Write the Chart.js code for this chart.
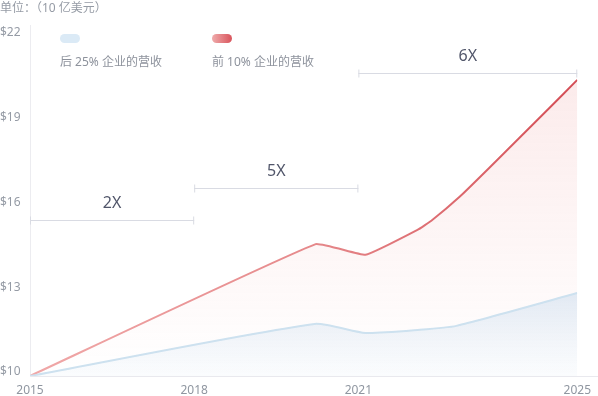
<!DOCTYPE html>
<html>
<head>
<meta charset="utf-8">
<script src="https://cdn.jsdelivr.net/npm/chart.js@4"></script>
<style>
  body { margin: 0; background: #fff; font-family: "Noto Sans", "Noto Sans CJK SC", sans-serif; }
  #wrap { position: relative; width: 598px; height: 396px; }
  #unit { position: absolute; left: 0; top: -2px; font-size: 12px; color: #959ba5; }
  .lg { position: absolute; top: 34px; font-size: 12px; color: #8d929c; }
  .lg .sw { width: 20px; height: 9px; border-radius: 5px; margin-bottom: 9px; }
  canvas { position: absolute; left: 0; top: 0; }
</style>
</head>
<body>
<div id="wrap">
  <canvas id="revenueChart" width="598" height="396"></canvas>
  <div id="unit">单位：（10 亿美元）</div>
  <div id="legend"></div>
</div>
<script>
// Years on the x axis and the tick labels shown
const xTicks = [2015, 2018, 2021, 2025];
const yTicks = [10, 13, 16, 19, 22];

// Bottom 25% companies
const bottomYears = [2015, 2020.2, 2021.13, 2022.12, 2022.79, 2025];
const bottomValues = [10, 11.84, 11.52, 11.63, 11.77, 12.93];

// Top 10% companies
const topYears = [2015, 2020.22, 2021.13, 2022.08, 2022.35, 2022.85, 2023.39, 2023.94, 2024.49, 2025];
const topValues = [10, 14.66, 14.28, 15.16, 15.51, 16.33, 17.35, 18.41, 19.47, 20.46];

// Growth brackets
const bracketLabels = ['2X', '5X', '6X'];
const bracketFrom = [2015, 2018, 2021];
const bracketTo = [2018, 2021, 2025];
const bracketLevel = [15.5, 16.65, 20.7];

const seriesLabels = ['后 25% 企业的营收', '前 10% 企业的营收'];

function pairs(xs, ys) {
    return xs.map((x, i) => ({ x: x, y: ys[i] }));
}

function vGradient(context, fromValue, c1, c2) {
    const { ctx, chartArea, scales } = context.chart;
    if (!chartArea) return null;
    const g = ctx.createLinearGradient(0, scales.y.getPixelForValue(fromValue), 0, chartArea.bottom);
    g.addColorStop(0, c1);
    g.addColorStop(1, c2);
    return g;
}

// brackets with "NX" labels, plus the x axis line running to the right edge
const bracketPlugin = {
    id: 'brackets',
    afterDatasetsDraw(chart) {
        const { ctx, chartArea, scales } = chart;
        ctx.save();
        ctx.strokeStyle = '#e9e9ee';
        ctx.lineWidth = 1;
        ctx.beginPath();
        ctx.moveTo(chartArea.right, chartArea.bottom + 0.5);
        ctx.lineTo(chart.width, chartArea.bottom + 0.5);
        ctx.stroke();

        ctx.strokeStyle = '#d9dbe3';
        ctx.fillStyle = '#51566a';
        ctx.font = '16px "Noto Sans", sans-serif';
        ctx.textAlign = 'center';
        ctx.textBaseline = 'middle';
        bracketLabels.forEach((label, i) => {
            const x1 = scales.x.getPixelForValue(bracketFrom[i]);
            const x2 = scales.x.getPixelForValue(bracketTo[i]);
            const y = Math.round(scales.y.getPixelForValue(bracketLevel[i])) + 0.5;
            ctx.beginPath();
            ctx.moveTo(x1, y);
            ctx.lineTo(x2, y);
            ctx.moveTo(x1 + 0.5, y - 4);
            ctx.lineTo(x1 + 0.5, y + 4);
            ctx.moveTo(x2 - 0.5, y - 4);
            ctx.lineTo(x2 - 0.5, y + 4);
            ctx.stroke();
            ctx.fillText(label, (x1 + x2) / 2, y - 17);
        });
        ctx.restore();
    }
};

function buildLegend() {
    const swatches = [
        '#dbeaf6',
        'linear-gradient(to right, #efabab, #d9545c)'
    ];
    const lefts = [60, 212];
    const el = document.getElementById('legend');
    seriesLabels.forEach((label, i) => {
        const item = document.createElement('div');
        item.className = 'lg';
        item.style.left = lefts[i] + 'px';
        item.innerHTML = '<div class="sw" style="background:' + swatches[i] + '"></div>' + label;
        el.appendChild(item);
    });
}

function initRevenueChart() {
    const canvas = document.getElementById('revenueChart');

    const chartConfig = {
        type: 'line',
        data: {
            datasets: [
                {
                    label: seriesLabels[0],
                    data: pairs(bottomYears, bottomValues),
                    borderColor: '#cde1ef',
                    borderWidth: 2,
                    pointRadius: 0,
                    tension: 0.2,
                    fill: 'origin',
                    backgroundColor: (context) => vGradient(context, 13, 'rgba(205,221,238,0.6)', 'rgba(225,236,246,0.15)')
                },
                {
                    label: seriesLabels[1],
                    data: pairs(topYears, topValues),
                    borderColor: (context) => {
                        const { ctx, chartArea } = context.chart;
                        if (!chartArea) return '#e08080';
                        const g = ctx.createLinearGradient(chartArea.left, 0, chartArea.right, 0);
                        g.addColorStop(0, '#f0a8a8');
                        g.addColorStop(0.5, '#e68a8c');
                        g.addColorStop(1, '#d44e56');
                        return g;
                    },
                    borderWidth: 2,
                    pointRadius: 0,
                    tension: 0.1,
                    fill: 'origin',
                    backgroundColor: (context) => vGradient(context, 22, 'rgba(232,120,120,0.17)', 'rgba(232,120,120,0)')
                }
            ]
        },
        options: {
            responsive: false,
            animation: false,
            devicePixelRatio: 1,
            layout: {
                padding: { top: 25, right: 20, left: 0, bottom: 0 }
            },
            plugins: {
                legend: { display: false },
                tooltip: { enabled: false }
            },
            scales: {
                x: {
                    type: 'linear',
                    min: 2015,
                    max: 2025,
                    afterBuildTicks: (scale) => { scale.ticks = xTicks.map(v => ({ value: v })); },
                    afterFit: (scale) => { scale.height = 20; },
                    grid: { display: false, drawTicks: false },
                    border: { display: true, color: '#e9e9ee' },
                    ticks: {
                        padding: 7,
                        color: '#8f96a0',
                        font: { size: 12, family: '"Noto Sans", sans-serif' },
                        callback: (value) => String(value)
                    }
                },
                y: {
                    min: 10,
                    max: 22.4,
                    afterBuildTicks: (scale) => { scale.ticks = yTicks.map(v => ({ value: v })); },
                    afterFit: (scale) => { scale.width = 30; },
                    grid: { display: false, drawTicks: false },
                    border: { display: true, color: '#ececf0' },
                    ticks: {
                        padding: 0,
                        crossAlign: 'far',
                        labelOffset: -4,
                        color: '#959ba5',
                        font: { size: 12, family: '"Noto Sans", sans-serif' },
                        callback: (value) => '$' + value
                    }
                }
            }
        },
        plugins: [bracketPlugin]
    };

    return new Chart(canvas, chartConfig);
}

document.addEventListener('DOMContentLoaded', function() {
    if (typeof Chart === 'undefined') {
        console.error('Chart.js not loaded');
        return;
    }
    initRevenueChart();
    buildLegend();
});
</script>
</body>
</html>
